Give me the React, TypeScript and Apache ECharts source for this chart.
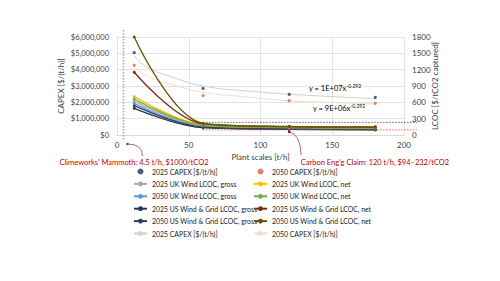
import React, { useEffect, useRef } from "react";
import * as echarts from "echarts";

const FONT = 'Lato, "Open Sans", sans-serif';

// Plant scales [t/h]
const xScales = [12, 60, 120, 180];
// CAPEX [$/(t/h)] points
const capex2025 = [5040000, 2860000, 2490000, 2310000];
const capex2050 = [4270000, 2410000, 2100000, 1940000];
// CAPEX power trendlines
const trendX = [12, 20, 40, 60, 90, 120, 150, 180];
const trend2025 = [4850000, 4200000, 3500000, 3000000, 2700000, 2500000, 2350000, 2220000];
const trend2050 = [4200000, 3650000, 3050000, 2620000, 2330000, 2100000, 1990000, 1900000];
// LCOC [$/tCO2 captured]
const ukGross2025 = [625, 165, 125, 112];
const ukNet2025 = [704, 190, 145, 135];
const ukGross2050 = [582, 150, 118, 105];
const ukNet2050 = [661, 178, 135, 125];
const usGross2025 = [490, 135, 110, 98];
const usNet2025 = [1152, 205, 155, 145];
const usGross2050 = [538, 142, 105, 95];
const usNet2050 = [1800, 215, 160, 150];

// Annotation values
const mammothScale = 4.5;
const ceScale = 120;
const ceLow = 94;
const ceHigh = 232;
const boxStart = 60;

const leftTicks = { min: 0, max: 6000000, interval: 1000000 };
const rightTicks = { min: 0, max: 1800, interval: 300 };
const xTicks = { min: 0, max: 200, interval: 50 };

const pairs = (xs: number[], ys: number[]) => xs.map((x, i) => [x, ys[i]]);

const lcocSeries = [
  { name: "2025 UK Wind LCOC, gross", data: ukGross2025, color: "#a5a5a5" },
  { name: "2050 UK Wind LCOC, gross", data: ukGross2050, color: "#5b9bd5" },
  { name: "2025 US Wind & Grid LCOC, gross", data: usGross2025, color: "#1f3864" },
  { name: "2050 US Wind & Grid LCOC, gross", data: usGross2050, color: "#333f50" },
  { name: "2025 UK Wind LCOC, net", data: ukNet2025, color: "#ffc000" },
  { name: "2050 UK Wind LCOC, net", data: ukNet2050, color: "#70ad47" },
  { name: "2025 US Wind & Grid LCOC, net", data: usNet2025, color: "#7b2d0f" },
  { name: "2050 US Wind & Grid LCOC, net", data: usNet2050, color: "#6b5206" },
];

const TREND = " (trend)";
const col1 = [
  "2025 CAPEX [$/(t/h)]",
  "2025 UK Wind LCOC, gross",
  "2050 UK Wind LCOC, gross",
  "2025 US Wind & Grid LCOC, gross",
  "2050 US Wind & Grid LCOC, gross",
  "2025 CAPEX [$/(t/h)]" + TREND,
];
const col2 = [
  "2050 CAPEX [$/(t/h)]",
  "2025 UK Wind LCOC, net",
  "2050 UK Wind LCOC, net",
  "2025 US Wind & Grid LCOC, net",
  "2050 US Wind & Grid LCOC, net",
  "2050 CAPEX [$/(t/h)]" + TREND,
];

export default function App() {
  const ref = useRef<HTMLDivElement>(null);
  useEffect(() => {
    if (!ref.current) return;
    const chart = echarts.init(ref.current, null, { renderer: "svg" });
    const axisLabel = { fontFamily: FONT, fontSize: 7.5, color: "#404040" };
    const nameStyle = { fontFamily: FONT, fontSize: 8, color: "#404040" };
    const legendBase = {
      orient: "vertical",
      top: 167,
      padding: 0,
      itemWidth: 13,
      itemHeight: 6,
      itemGap: 3.4,
      textStyle: { fontFamily: FONT, fontSize: 6.9, lineHeight: 9, color: "#1a1a1a" },
      formatter: (n: string) => n.replace(TREND, ""),
    };
    const option: any = {
      animation: false,
      backgroundColor: "#ffffff",
      grid: { left: 117, right: 96, top: 37, bottom: 146, containLabel: false },
      xAxis: {
        type: "value",
        ...xTicks,
        name: "Plant scales [t/h]",
        nameLocation: "middle",
        nameGap: 18,
        nameMoveOverlap: false,
        nameTextStyle: nameStyle,
        axisLine: { show: true, lineStyle: { color: "#d9d9d9" } },
        axisTick: { show: false },
        axisLabel: { ...axisLabel, fontSize: 8, margin: 6 },
        splitLine: { show: true, lineStyle: { color: "#e3e3e3", width: 1 } },
      },
      yAxis: [
        {
          type: "value",
          ...leftTicks,
          position: "left",
          name: "CAPEX [$/(t/h)]",
          nameLocation: "middle",
          nameRotate: 90,
          nameGap: 52,
          nameMoveOverlap: false,
          nameTextStyle: nameStyle,
          axisLine: { show: false },
          axisTick: { show: false },
          axisLabel: {
            ...axisLabel,
            margin: 8,
            formatter: (v: number) => "$" + v.toLocaleString("en-US"),
          },
          splitLine: { show: true, lineStyle: { color: "#e3e3e3", width: 1 } },
        },
        {
          type: "value",
          ...rightTicks,
          position: "right",
          name: "LCOC [$/tCO2 captured]",
          nameLocation: "middle",
          nameRotate: 90,
          nameGap: 27,
          nameMoveOverlap: false,
          nameTextStyle: nameStyle,
          axisLine: { show: false },
          axisTick: { show: false },
          axisLabel: { ...axisLabel, fontSize: 8, margin: 8, formatter: (v: number) => String(v) },
          splitLine: { show: false },
        },
      ],
      legend: [
        { ...legendBase, left: 133, data: col1 },
        { ...legendBase, left: 253, data: col2 },
      ],
      series: [
        {
          name: "2025 CAPEX [$/(t/h)]" + TREND,
          type: "line",
          yAxisIndex: 0,
          smooth: true,
          symbol: "none",
          data: pairs(trendX, trend2025),
          lineStyle: { color: "#cfcfcf", width: 1 },
          itemStyle: { color: "#cfcfcf" },
          z: 1,
        },
        {
          name: "2050 CAPEX [$/(t/h)]" + TREND,
          type: "line",
          yAxisIndex: 0,
          smooth: true,
          symbol: "none",
          data: pairs(trendX, trend2050),
          lineStyle: { color: "#f5dcc8", width: 1 },
          itemStyle: { color: "#f5dcc8" },
          z: 1,
        },
        ...lcocSeries.map((s) => ({
          name: s.name,
          type: "line",
          yAxisIndex: 1,
          smooth: 0.35,
          symbol: "circle",
          symbolSize: 3,
          data: pairs(xScales, s.data),
          lineStyle: { color: s.color, width: 1.3 },
          itemStyle: { color: s.color },
          z: 3,
        })),
        {
          name: "2025 CAPEX [$/(t/h)]",
          type: "scatter",
          yAxisIndex: 0,
          symbol: "circle",
          symbolSize: 3.2,
          data: pairs(xScales, capex2025),
          itemStyle: { color: "#1f3864" },
          z: 4,
        },
        {
          name: "2050 CAPEX [$/(t/h)]",
          type: "scatter",
          yAxisIndex: 0,
          symbol: "circle",
          symbolSize: 3.2,
          data: pairs(xScales, capex2050),
          itemStyle: { color: "#e0603a" },
          z: 4,
        },
      ],
    };
    chart.setOption(option);

    const px = (x: number, y: number, yi: number) =>
      chart.convertToPixel({ xAxisIndex: 0, yAxisIndex: yi } as any, [x, y]) as number[];
    const top = px(0, leftTicks.max, 0)[1];
    const bottom = px(0, 0, 0)[1];
    const right = px(xTicks.max, 0, 0)[0];
    const mx = px(mammothScale, 0, 0)[0];
    const hi = px(boxStart, ceHigh, 1);
    const lo = px(boxStart, ceLow, 1);
    const ce = px(ceScale, ceLow, 1);
    const red = "#c00000";
    const annoText = { fontFamily: FONT, fontSize: 7.5, fill: red };
    const eqRich = {
      b: { fontFamily: FONT, fontSize: 7.5, color: "#404040" },
      s: { fontFamily: FONT, fontSize: 5, color: "#404040", verticalAlign: "top", padding: [0, 0, 4, 0] },
    };

    chart.setOption({
      graphic: [
        {
          type: "line",
          shape: { x1: mx, y1: top - 7, x2: mx, y2: bottom + 5 },
          style: { stroke: "#a6a6a6", lineWidth: 1.5, lineDash: [1.5, 1.5] },
          z: 10,
        },
        {
          type: "line",
          shape: { x1: hi[0], y1: hi[1], x2: right + 13, y2: hi[1] },
          style: { stroke: "#404040", lineWidth: 0.8, lineDash: [1.5, 1.5] },
          z: 10,
        },
        {
          type: "line",
          shape: { x1: lo[0], y1: lo[1], x2: right + 13, y2: lo[1] },
          style: { stroke: "#e04040", lineWidth: 0.8, lineDash: [1.5, 1.5] },
          z: 10,
        },
        {
          type: "line",
          shape: { x1: hi[0], y1: hi[1], x2: lo[0], y2: lo[1] },
          style: { stroke: "#808080", lineWidth: 0.8, lineDash: [1.5, 1.5] },
          z: 10,
        },
        {
          type: "text",
          x: 134,
          y: 162,
          style: {
            ...annoText,
            text: "Climeworks' Mammoth: 4.5 t/h, $1000/tCO2",
            align: "center",
            verticalAlign: "middle",
          },
          z: 10,
        },
        {
          type: "text",
          x: 375,
          y: 162,
          style: {
            ...annoText,
            text: "Carbon Eng'g Claim: 120 t/h, $94\u2013232/tCO2",
            align: "center",
            verticalAlign: "middle",
          },
          z: 10,
        },
        {
          type: "bezierCurve",
          shape: { x1: mx + 4, y1: bottom + 9, cpx1: mx + 19, cpy1: bottom + 9, x2: mx + 19, y2: bottom + 21 },
          style: { stroke: "#a04040", lineWidth: 0.8, fill: null },
          z: 10,
        },
        {
          type: "circle",
          shape: { cx: mx + 4, cy: bottom + 9, r: 1.3 },
          style: { fill: "#a04040" },
          z: 10,
        },
        {
          type: "bezierCurve",
          shape: { x1: ce[0], y1: ce[1] + 2, cpx1: ce[0] + 11, cpy1: ce[1] + 4, x2: ce[0] + 12, y2: bottom + 20 },
          style: { stroke: "#a04040", lineWidth: 0.8, fill: null },
          z: 10,
        },
        {
          type: "circle",
          shape: { cx: ce[0], cy: ce[1] + 2, r: 1.3 },
          style: { fill: red },
          z: 10,
        },
        {
          type: "text",
          x: 309,
          y: 88,
          style: { text: "{b|y = 1E+07x}{s|-0.292}", rich: eqRich, verticalAlign: "middle" },
          z: 10,
        },
        {
          type: "text",
          x: 313,
          y: 108,
          style: { text: "{b|y = 9E+06x}{s|-0.292}", rich: eqRich, verticalAlign: "middle" },
          z: 10,
        },
      ],
    });

    return () => chart.dispose();
  }, []);

  return (
    <div
      ref={ref}
      style={{ position: "fixed", left: 0, top: 0, width: 500, height: 281, background: "#fff" }}
    />
  );
}
